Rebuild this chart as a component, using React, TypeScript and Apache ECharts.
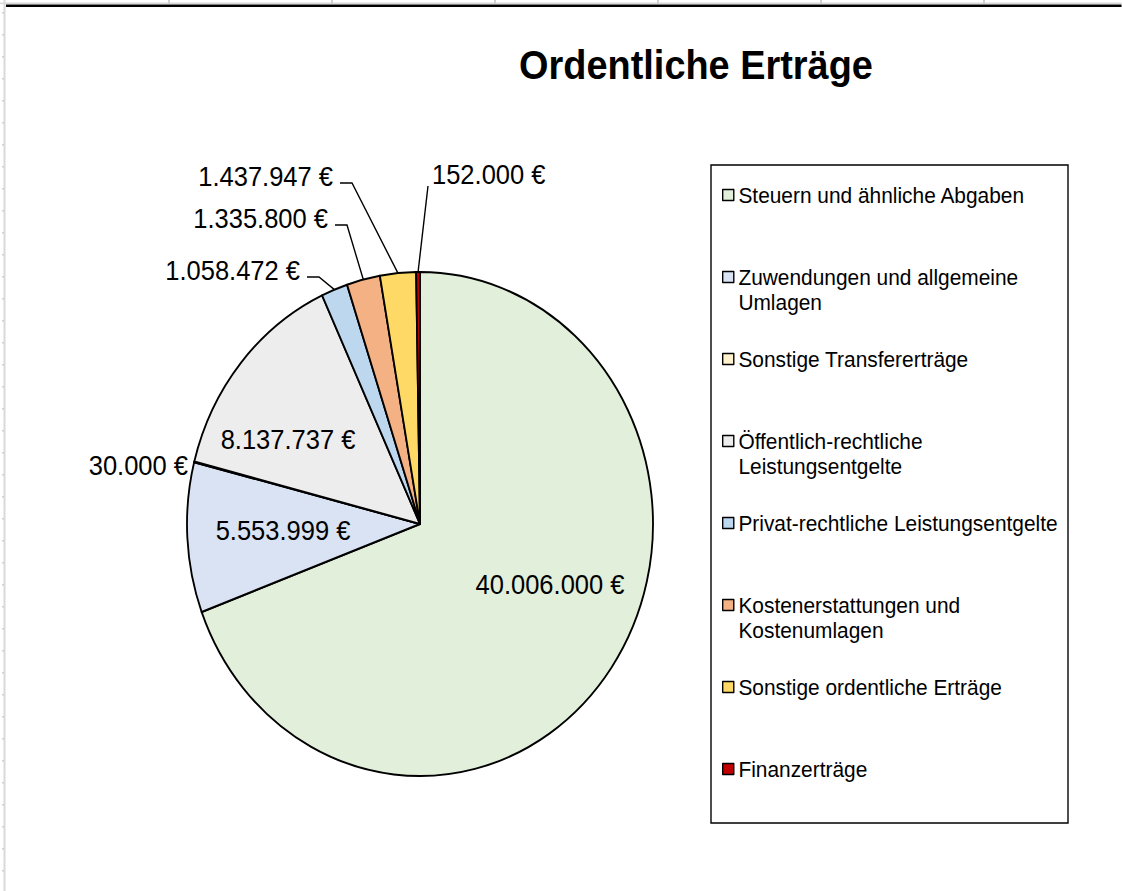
import React, { useEffect, useRef } from 'react';
import * as echarts from 'echarts';

// ---- data ----
const categories = [
  'Steuern und ähnliche Abgaben',
  'Zuwendungen und allgemeine Umlagen',
  'Sonstige Transfererträge',
  'Öffentlich-rechtliche Leistungsentgelte',
  'Privat-rechtliche Leistungsentgelte',
  'Kostenerstattungen und Kostenumlagen',
  'Sonstige ordentliche Erträge',
  'Finanzerträge',
];
const values = [40006000, 5553999, 30000, 8137737, 1058472, 1335800, 1437947, 152000];
const legendLines = [
  ['Steuern und ähnliche Abgaben'],
  ['Zuwendungen und allgemeine', 'Umlagen'],
  ['Sonstige Transfererträge'],
  ['Öffentlich-rechtliche', 'Leistungsentgelte'],
  ['Privat-rechtliche Leistungsentgelte'],
  ['Kostenerstattungen und', 'Kostenumlagen'],
  ['Sonstige ordentliche Erträge'],
  ['Finanzerträge'],
];
const colors = ['#E2EFDA', '#DAE3F3', '#FFF2CC', '#EDEDED', '#BDD7EE', '#F4B183', '#FFD966', '#C00000'];
const titleText = 'Ordentliche Erträge';

// ---- layout (page coordinates) ----
const SX = 0.9246; // horizontal squeeze of the original picture
const W = 1122;
const H = 891;
const px = (x: number) => x / SX;
const FONT = '"Liberation Sans", Arial, sans-serif';

type Place = { x: number; y: number; align: 'left' | 'right' | 'center'; line?: 'elbow' | 'direct' };
const labelPlacement: Place[] = [
  { x: 550, y: 585, align: 'center' },
  { x: 283, y: 531, align: 'center' },
  { x: 188, y: 466, align: 'right' },
  { x: 288, y: 440, align: 'center' },
  { x: 300, y: 271, align: 'right', line: 'elbow' },
  { x: 328, y: 219, align: 'right', line: 'elbow' },
  { x: 333, y: 177, align: 'right', line: 'elbow' },
  { x: 432, y: 175, align: 'left', line: 'direct' },
];

const fmt = (v: number) => String(v).replace(/\B(?=(\d{3})+(?!\d))/g, '.') + ' €';

export default function App() {
  const ref = useRef<HTMLDivElement>(null);
  useEffect(() => {
    const chart = echarts.init(ref.current!, null, { renderer: 'svg' });

    const data = categories.map((name, i) => ({
      name,
      value: values[i],
      itemStyle: { color: colors[i] },
      label: { position: labelPlacement[i].line || labelPlacement[i].align === 'right' ? 'outside' : 'inside' },
      labelLine: { show: !!labelPlacement[i].line },
    }));

    const graphics: any[] = [];
    // spreadsheet frame decorations
    graphics.push({ type: 'rect', shape: { x: px(3.5), y: 0, width: px(2), height: H }, style: { fill: '#d9d9d9' }, silent: true });
    for (let y = 12; y < H; y += 22) {
      graphics.push({ type: 'rect', shape: { x: px(2), y, width: px(2), height: 1.5 }, style: { fill: '#d0d0d0' }, silent: true });
    }
    graphics.push({ type: 'rect', shape: { x: 0, y: 2.5, width: px(W), height: 1.5 }, style: { fill: '#d9d9d9' }, silent: true });
    [168, 331, 494, 657, 820, 983].forEach((x) => {
      graphics.push({ type: 'rect', shape: { x: px(x), y: 0, width: px(2), height: 4 }, style: { fill: '#d0d0d0' }, silent: true });
    });
    graphics.push({ type: 'rect', shape: { x: px(6), y: 4.5, width: px(W), height: 2.5 }, style: { fill: '#000' }, silent: true });
    // legend frame
    graphics.push({
      type: 'rect',
      shape: { x: px(711), y: 165, width: px(1068) - px(711), height: 658 },
      style: { fill: 'none', stroke: '#000', lineWidth: 1.5 },
      silent: true,
    });

    chart.setOption({
      animation: false,
      backgroundColor: '#fff',
      title: {
        text: titleText,
        left: px(696),
        top: 44,
        textAlign: 'center',
        padding: 0,
        textStyle: { fontFamily: FONT, fontSize: 41, fontWeight: 'bold', color: '#000' },
      },
      legend: {
        orient: 'vertical',
        left: px(722),
        top: 157.5,
        padding: 0,
        itemGap: 7,
        itemWidth: 12,
        itemHeight: 11,
        icon: 'rect',
        selectedMode: false,
        itemStyle: { borderColor: '#000', borderWidth: 1.5 },
        textStyle: { fontFamily: FONT, fontSize: 22.6, lineHeight: 25, color: '#000' },
        formatter: (name: string) => {
          const i = categories.indexOf(name);
          const l = legendLines[i];
          return '\n' + l[0] + '\n' + (l[1] || '');
        },
        data: categories,
      },
      graphic: graphics,
      series: [
        {
          type: 'pie',
          center: [px(420), 524],
          radius: 252,
          startAngle: 90,
          clockwise: true,
          avoidLabelOverlap: false,
          silent: true,
          emphasis: { disabled: true },
          itemStyle: { borderColor: '#000', borderWidth: 2 },
          label: {
            show: true,
            fontFamily: FONT,
            fontSize: 27.6,
            color: '#000',
            formatter: (p: any) => fmt(p.value),
          },
          labelLine: { show: true, lineStyle: { color: '#000', width: 1.5 }, length: 10, length2: 10 },
          labelLayout: (params: any) => {
            const p = labelPlacement[params.dataIndex];
            const res: any = { x: px(p.x), y: p.y, align: p.align, verticalAlign: 'middle' };
            const pts = params.labelLinePoints;
            if (p.line && pts && pts.length) {
              const a = pts[0];
              if (p.line === 'direct') {
                res.labelLinePoints = [a, [px(p.x - 4), p.y + 11]];
              } else {
                res.labelLinePoints = [a, [px(p.x + 19), p.y + 6], [px(p.x + 7), p.y + 6]];
              }
            }
            return res;
          },
          data,
        },
      ],
    });
    return () => chart.dispose();
  }, []);

  return (
    <div style={{ position: 'absolute', left: 0, top: 0, width: W, height: H, overflow: 'hidden', background: '#fff' }}>
      <div
        ref={ref}
        style={{ width: px(W), height: H, transform: `scaleX(${SX})`, transformOrigin: '0 0' }}
      />
    </div>
  );
}
